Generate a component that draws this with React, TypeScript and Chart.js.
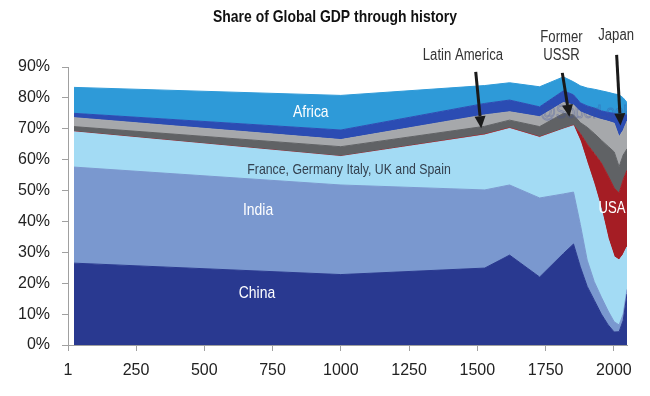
import React, { useEffect, useRef } from "react";
import { Chart, registerables } from "chart.js";

Chart.register(...registerables);

// x positions
const YEARS = [23, 1000, 1527, 1618, 1728, 1815, 1852, 1877, 1902, 1928, 1954, 1979, 2001, 2019, 2034, 2048];
// shares of global GDP, %
const CHINA = [26.5, 22.8, 24.9, 29.1, 22.0, 29.6, 32.7, 25.3, 19.0, 14.5, 10.0, 6.5, 4.2, 4.3, 8.0, 16.5];
const INDIA = [31.1, 29.0, 25.3, 22.7, 25.6, 19.3, 16.8, 13.7, 8.5, 6.0, 5.5, 4.5, 3.3, 2.2, 2.0, 1.5];
const WEUROPE = [11.4, 9.2, 17.8, 18.3, 19.6, 21.0, 21.5, 27.0, 31.5, 31.5, 28.5, 23.5, 21.1, 21.0, 19.3, 13.8];
const USA = [0.1, 0.1, 0.2, 0.2, 0.2, 0.1, 0.2, 2.4, 6.0, 10.0, 14.9, 20.2, 22.2, 21.7, 24.2, 24.8];
const USSR = [1.6, 3.1, 2.6, 2.5, 3.3, 5.0, 3.3, 3.6, 5.5, 6.5, 7.4, 9.6, 11.7, 8.5, 8.0, 6.9];
const LATAM = [2.9, 2.3, 3.7, 2.7, 3.2, 3.5, 3.2, 3.5, 4.1, 5.2, 6.7, 8.1, 9.3, 9.7, 8.0, 9.0];
const JAPAN = [1.4, 3.1, 3.7, 3.8, 3.2, 3.8, 3.3, 2.9, 2.8, 3.0, 2.8, 2.9, 3.2, 7.1, 5.0, 2.0];
const AFRICA = [8.4, 11.2, 5.8, 5.6, 6.5, 4.5, 4.2, 5.5, 5.8, 6.1, 6.5, 6.5, 6.3, 6.5, 5.5, 4.0];

const TICK_YEARS = [1, 250, 500, 750, 1000, 1250, 1500, 1750, 2000];
const X_START = 1;
const X_END = 2048;
const Y_MAX = 90;
const Y_STEP = 10;

const TITLE = "Share of Global GDP through history";
const FONT = "'Liberation Sans', Arial, sans-serif";
const NARROW = 0.82; // horizontal squeeze to imitate a narrow face

const SERIES = [
  { name: "China", values: CHINA, color: "#293990" },
  { name: "India", values: INDIA, color: "#7A98CF" },
  { name: "France, Germany Italy, UK and Spain", values: WEUROPE, color: "#A3DBF4" },
  { name: "USA", values: USA, color: "#A51D24" },
  { name: "Former USSR", values: USSR, color: "#606265" },
  { name: "Latin America", values: LATAM, color: "#A6A8AB" },
  { name: "Japan", values: JAPAN, color: "#2B4CB3" },
  { name: "Africa", values: AFRICA, color: "#2E9AD8" },
];

// labels inside the areas: [text, year, % baseline, colour, size]
const AREA_LABELS: [string, number, number, string, number][] = [
  ["Africa", 890, 73.7, "#ffffff", 17],
  ["France, Germany Italy, UK and Spain", 1030, 55.5, "#33404f", 15],
  ["India", 697, 42.1, "#ffffff", 17],
  ["China", 693, 15.2, "#ffffff", 17],
  ["USA", 1993, 42.7, "#ffffff", 16],
];

// callouts: lines (text, year, % baseline) and arrow (from year,% to year,%)
const CALLOUTS = [
  { lines: [["Latin America", 1447, 92.4]], arrow: [1494, 88.4, 1514, 70.2] },
  { lines: [["Former", 1808, 98.1], ["USSR", 1808, 92.4]], arrow: [1811, 88.1, 1837, 73.9] },
  { lines: [["Japan", 2008, 98.7]], arrow: [2010, 93.9, 2024, 71.1] },
];

function narrowText(ctx: CanvasRenderingContext2D, text: string, x: number, y: number, stroke = false) {
  ctx.save();
  ctx.translate(x, y);
  ctx.scale(NARROW, 1);
  if (stroke) ctx.strokeText(text, 0, 0);
  else ctx.fillText(text, 0, 0);
  ctx.restore();
}

function drawArrow(ctx: CanvasRenderingContext2D, x1: number, y1: number, x2: number, y2: number) {
  const ang = Math.atan2(y2 - y1, x2 - x1);
  const head = 12;
  const hw = 5.5;
  const bx = x2 - head * Math.cos(ang);
  const by = y2 - head * Math.sin(ang);
  ctx.strokeStyle = "#1a1a1a";
  ctx.fillStyle = "#1a1a1a";
  ctx.lineWidth = 3;
  ctx.beginPath();
  ctx.moveTo(x1, y1);
  ctx.lineTo(bx, by);
  ctx.stroke();
  ctx.beginPath();
  ctx.moveTo(x2, y2);
  ctx.lineTo(bx - hw * Math.sin(ang), by + hw * Math.cos(ang));
  ctx.lineTo(bx + hw * Math.sin(ang), by - hw * Math.cos(ang));
  ctx.closePath();
  ctx.fill();
}

const overlayPlugin = {
  id: "overlay",
  afterDatasetsDraw(chart: any) {
    const { ctx, chartArea } = chart;
    const xs = chart.scales.x;
    const ys = chart.scales.y;
    ctx.save();

    // faint watermark
    ctx.save();
    ctx.beginPath();
    ctx.rect(chartArea.left, chartArea.top, chartArea.right - chartArea.left, chartArea.bottom - chartArea.top);
    ctx.clip();
    ctx.font = `19px ${FONT}`;
    ctx.textAlign = "left";
    ctx.textBaseline = "alphabetic";
    ctx.strokeStyle = "rgba(60,80,160,0.35)";
    ctx.lineWidth = 1;
    narrowText(ctx, "@SoberLook", xs.getPixelForValue(1730), ys.getPixelForValue(73.5), true);
    ctx.restore();

    ctx.textAlign = "center";
    ctx.textBaseline = "alphabetic";
    for (const [text, yr, pct, color, size] of AREA_LABELS) {
      ctx.font = `${size}px ${FONT}`;
      ctx.fillStyle = color;
      narrowText(ctx, text, xs.getPixelForValue(yr), ys.getPixelForValue(pct));
    }

    for (const c of CALLOUTS) {
      ctx.font = `16px ${FONT}`;
      ctx.fillStyle = "#333333";
      ctx.textAlign = "center";
      for (const [text, yr, pct] of c.lines as [string, number, number][]) {
        narrowText(ctx, text, xs.getPixelForValue(yr), ys.getPixelForValue(pct));
      }
      const [ax1, ay1, ax2, ay2] = c.arrow;
      drawArrow(ctx, xs.getPixelForValue(ax1), ys.getPixelForValue(ay1), xs.getPixelForValue(ax2), ys.getPixelForValue(ay2));
    }

    ctx.font = `bold 17px ${FONT}`;
    ctx.fillStyle = "#111111";
    ctx.textAlign = "center";
    narrowText(ctx, TITLE, chart.width / 2 + 10, 14);
    ctx.restore();
  },
};

export default function App() {
  const canvasRef = useRef<HTMLCanvasElement | null>(null);

  useEffect(() => {
    if (!canvasRef.current) return;
    const datasets = SERIES.map((s, i) => ({
      label: s.name,
      data: YEARS.map((yr, j) => ({ x: yr, y: s.values[j] })),
      backgroundColor: s.color,
      borderColor: s.color,
      borderWidth: 1,
      pointRadius: 0,
      tension: 0,
      fill: i === 0 ? "origin" : "-1",
    }));
    const axisColor = "#a0a0a0";
    const chart = new Chart(canvasRef.current, {
      type: "line",
      data: { datasets },
      options: {
        animation: false,
        responsive: true,
        maintainAspectRatio: false,
        layout: { padding: { top: 59, right: 12, left: 0, bottom: 0 } },
        plugins: {
          legend: { display: false },
          tooltip: { enabled: false },
          title: { display: false },
        },
        scales: {
          x: {
            type: "linear",
            min: X_START,
            max: X_END,
            afterBuildTicks: (s: any) => {
              s.ticks = TICK_YEARS.map((v) => ({ value: v }));
            },
            afterFit: (s: any) => {
              s.height = 43;
            },
            grid: { display: true, drawOnChartArea: false, drawTicks: true, tickLength: 6, color: axisColor },
            border: { display: true, color: axisColor, width: 1, z: 1 },
            ticks: {
              padding: 10,
              color: "#222",
              autoSkip: false,
              maxRotation: 0,
              font: { family: FONT, size: 16 },
              callback: (v: any) => String(v),
            },
          },
          y: {
            stacked: true,
            min: 0,
            max: Y_MAX,
            afterFit: (s: any) => {
              s.width = 60;
            },
            grid: { display: true, drawOnChartArea: false, drawTicks: true, tickLength: 6, color: axisColor },
            border: { display: true, color: axisColor, width: 1 },
            ticks: {
              stepSize: Y_STEP,
              padding: 12,
              color: "#222",
              font: { family: FONT, size: 16 },
              callback: (v: any) => `${v}%`,
            },
          },
        },
      } as any,
      plugins: [overlayPlugin],
    });
    return () => chart.destroy();
  }, []);

  return (
    <div style={{ position: "relative", width: 634, height: 380 }}>
      <canvas ref={canvasRef} />
    </div>
  );
}
